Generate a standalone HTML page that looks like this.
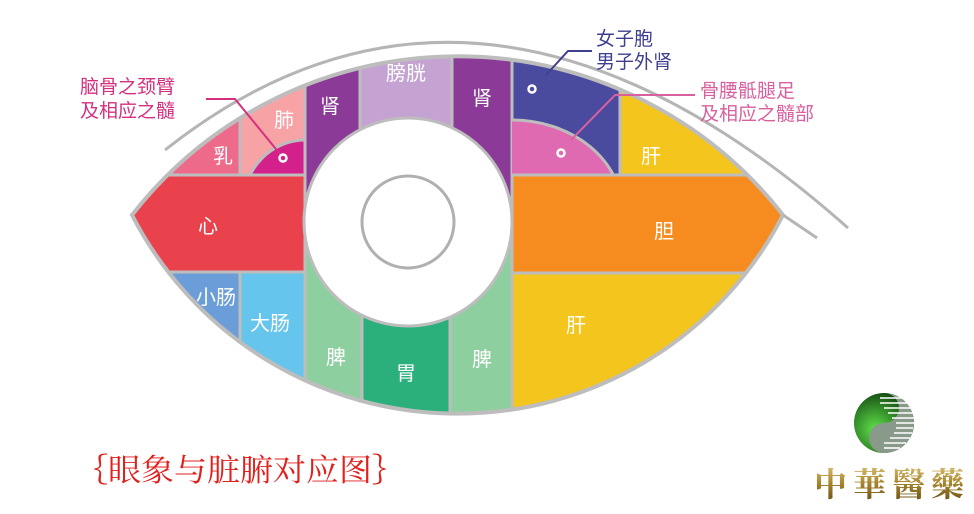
<!DOCTYPE html>
<html><head><meta charset="utf-8"><style>
body{margin:0;background:#fff;width:974px;height:514px;overflow:hidden}
svg{display:block}
text{font-family:"Liberation Sans","Noto Sans CJK SC",sans-serif}
</style></head><body>
<svg width="974" height="514" viewBox="0 0 974 514">
<defs>
<clipPath id="eye"><path d="M132,215 A413,413 0 0 1 783,215 A366,366 0 0 1 132,215 Z"/></clipPath>
<clipPath id="pk"><rect x="512" y="60" width="108" height="115"/></clipPath>
<clipPath id="mg"><rect x="240" y="60" width="65" height="115"/></clipPath>
<radialGradient id="g1" cx="35%" cy="60%" r="70%"><stop offset="0" stop-color="#5fe04a"/><stop offset="1" stop-color="#0b3a0b"/></radialGradient>
<linearGradient id="gold" x1="0" y1="0" x2="0" y2="1"><stop offset="0" stop-color="#e8d48a"/><stop offset="0.5" stop-color="#a8862e"/><stop offset="1" stop-color="#5e4510"/></linearGradient>
</defs>
<path d="M165,150 Q480,-99 848,228" fill="none" stroke="#b5b5b5" stroke-width="3"/>
<path d="M132,215 A413,413 0 0 1 783,215 A366,366 0 0 1 132,215 Z" fill="#c0c0c0"/>
<g clip-path="url(#eye)" stroke="#bdbdbd" stroke-width="3">
<rect x="100" y="60" width="140" height="115" fill="#ee6a8b"/>
<rect x="240" y="40" width="65" height="135" fill="#f7a3a6"/>
<g clip-path="url(#mg)"><ellipse cx="305" cy="205" rx="62" ry="65" fill="#d4208a"/></g>
<rect x="100" y="175" width="205" height="97" fill="#ea424c"/>
<rect x="100" y="272" width="140" height="160" fill="#6b9ed8"/>
<rect x="240" y="272" width="65" height="160" fill="#66c5ec"/>
<rect x="305" y="30" width="55" height="200" fill="#8b3a98"/>
<rect x="360" y="30" width="92" height="200" fill="#c4a2d2"/>
<rect x="452" y="30" width="60" height="200" fill="#8b3a98"/>
<rect x="305" y="222" width="57" height="210" fill="#8ecfa0"/>
<rect x="362" y="222" width="88" height="210" fill="#2bb07b"/>
<rect x="450" y="222" width="62" height="210" fill="#8ecfa0"/>
<rect x="512" y="30" width="108" height="145" fill="#4a4a9e"/>
<g clip-path="url(#pk)"><ellipse cx="512" cy="210" rx="110" ry="90" fill="#e06ab2"/></g>
<rect x="620" y="30" width="200" height="145" fill="#f4c51c"/>
<rect x="512" y="175" width="300" height="98" fill="#f68c1f"/>
<rect x="512" y="273" width="300" height="160" fill="#f4c51c"/>
</g>
<path d="M132,215 A413,413 0 0 1 783,215 A366,366 0 0 1 132,215 Z" fill="none" stroke="#bdbdbd" stroke-width="4"/>
<path d="M783,215 L817,238" stroke="#b5b5b5" stroke-width="3"/>
<circle cx="408" cy="222" r="104" fill="#fff" stroke="#bdbdbd" stroke-width="3"/>
<circle cx="408" cy="222" r="46" fill="#fff" stroke="#b0b0b0" stroke-width="3"/>
<g fill="#fff" font-size="20" text-anchor="middle">
<text x="223" y="163">乳</text><text x="284" y="127">肺</text>
<text x="330" y="113">肾</text><text x="406" y="80">膀胱</text><text x="482" y="105">肾</text>
<text x="208" y="233">心</text><text x="216" y="304">小肠</text><text x="270" y="330">大肠</text>
<text x="336" y="364">脾</text><text x="406" y="380">胃</text><text x="482" y="366">脾</text>
<text x="651" y="163">肝</text><text x="664" y="238">胆</text><text x="576" y="332">肝</text>
</g>
<g fill="none" stroke="#fff" stroke-width="2.5">
<circle cx="283" cy="158" r="3.5"/><circle cx="532" cy="89" r="3.5"/><circle cx="561" cy="153" r="3.5"/>
</g>
<g font-size="19">
<text x="80" y="93" fill="#d4307f">脑骨之颈臂</text>
<text x="80" y="117" fill="#d4307f">及相应之髓</text>
<text x="596" y="45" fill="#3f3f8f">女子胞</text>
<text x="596" y="68" fill="#3f3f8f">男子外肾</text>
<text x="700" y="97" fill="#d9609f">骨腰骶腿足</text>
<text x="700" y="120" fill="#d9609f">及相应之髓部</text>
</g>
<path d="M206,99 L235,99 L280,154" fill="none" stroke="#d4307f" stroke-width="2"/>
<path d="M546,75 L568,51 L592,51" fill="none" stroke="#3f3f8f" stroke-width="2"/>
<path d="M571,140 L615,95 L695,95" fill="none" stroke="#d9609f" stroke-width="2"/>
<text x="75" y="481" font-size="31" fill="#e0201c" textLength="330" lengthAdjust="spacingAndGlyphs" style="font-family:'Noto Serif CJK SC',serif">｛眼象与脏腑对应图｝</text>
<circle cx="884" cy="423" r="30" fill="url(#g1)"/>
<path d="M884,393 A30,30 0 0 1 884,453 A15,15 0 0 1 884,423 A15,15 0 0 0 884,393 Z" fill="#8a9a8a"/>
<g stroke="#fff" stroke-width="1.6">
<line x1="880" y1="398" x2="910" y2="398"/><line x1="880" y1="403" x2="912" y2="403"/><line x1="884" y1="408" x2="913" y2="408"/><line x1="888" y1="413" x2="914" y2="413"/><line x1="892" y1="418" x2="914" y2="418"/><line x1="896" y1="423" x2="914" y2="423"/><line x1="896" y1="428" x2="913" y2="428"/><line x1="894" y1="433" x2="912" y2="433"/><line x1="890" y1="438" x2="910" y2="438"/><line x1="884" y1="443" x2="906" y2="443"/><line x1="884" y1="448" x2="900" y2="448"/>
</g>
<text x="814" y="496" font-size="33" font-weight="bold" fill="url(#gold)" letter-spacing="6" style="font-family:'Noto Serif CJK SC',serif">中華醫藥</text>
</svg>
</body></html>
